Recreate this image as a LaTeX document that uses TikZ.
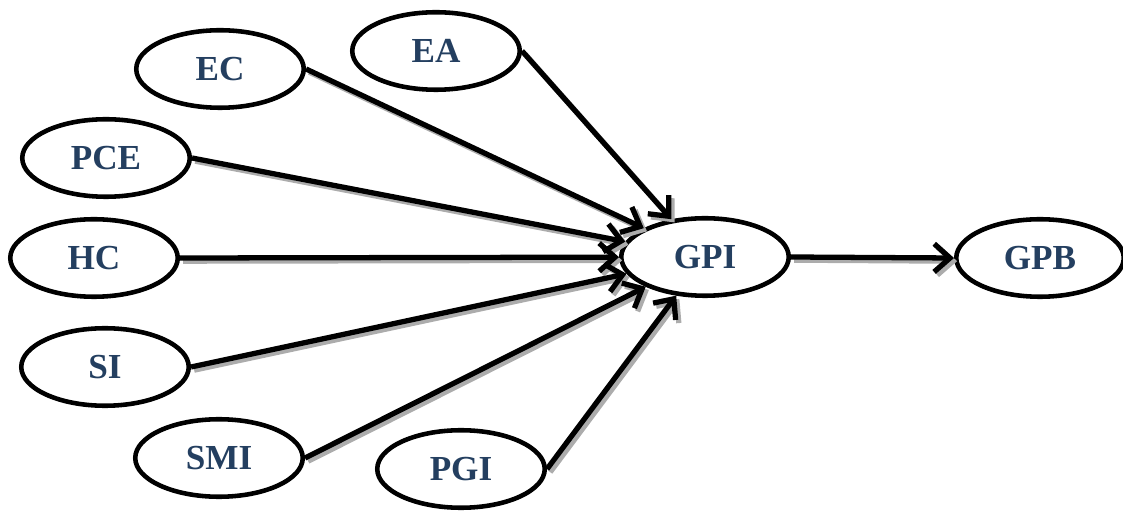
\documentclass[tikz,border=0pt]{standalone}
\usepackage{fontspec}
\setmainfont{Liberation Serif}
\usetikzlibrary{shapes.geometric, arrows.meta, positioning}
\definecolor{LabelBlue}{HTML}{243F60}

\begin{document}
\begin{tikzpicture}[
			every node/.style={ellipse,draw,line width=2.6pt,minimum width=3.35cm,minimum height=1.55cm,inner sep=0pt,
				font=\fontsize{20}{24}\selectfont\bfseries,text=LabelBlue},
			link/.style={line width=3pt,-{Straight Barb[length=9pt,width=16pt,line width=3pt]}}
		]
		\useasboundingbox (0,0) rectangle (22.46,10.22);
		\node (gpi) at (14.10,5.08) {GPI};
		\node (gpb) at (20.80,5.06) {GPB};
		\node (ec) at (4.40,8.84) {EC};
		\node (ea) at (8.72,9.20) {EA};
		\node (pce) at (2.12,7.06) {PCE};
		\node (hc) at (1.88,5.06) {HC};
		\node (si) at (2.10,2.88) {SI};
		\node (smi) at (4.38,1.06) {SMI};
		\node (pgi) at (9.22,0.84) {PGI};
		\begin{scope}[transform canvas={xshift=1.8pt,yshift=-1.8pt}]
			\foreach \src in {ea,ec,pce,hc,si,smi,pgi}
				\draw[link,draw=gray!65] (\src.east) -- (gpi);
			\draw[link,draw=gray!65] (gpi.east) -- (gpb.west);
		\end{scope}
		\foreach \src in {ea,ec,pce,hc,si,smi,pgi}
			\draw[link] (\src.east) -- (gpi);
		\draw[link] (gpi.east) -- (gpb.west);
	\end{tikzpicture}
\end{document}
